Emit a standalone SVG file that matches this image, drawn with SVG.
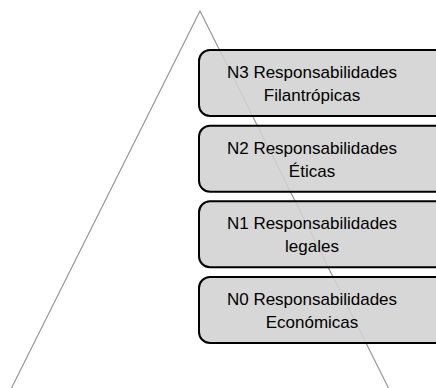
<svg xmlns="http://www.w3.org/2000/svg" width="436" height="388" viewBox="0 0 436 388">
  <style>
    .tri { fill: none; stroke: #a0a0a0; stroke-width: 1.3; }
    .box rect { fill: #d2d2d2; fill-opacity: 0.88; stroke: #000; stroke-width: 2; }
    .box text { font-family: "Liberation Sans", Arial, sans-serif; font-size: 17px; fill: #000; text-anchor: middle; }
  </style>
  <rect width="436" height="388" fill="#fff"/>
  <g id="connectors">
    <polyline class="tri" points="11,389 200,11 389,389"/>
  </g>
  <g id="n3" class="box">
    <rect x="199" y="50" width="260" height="66" rx="11"/>
    <text x="312" y="78">N3 Responsabilidades</text>
    <text x="312" y="101">Filantrópicas</text>
  </g>
  <g id="n2" class="box">
    <rect x="199" y="125.7" width="260" height="66" rx="11"/>
    <text x="312" y="153.7">N2 Responsabilidades</text>
    <text x="312" y="176.7">Éticas</text>
  </g>
  <g id="n1" class="box">
    <rect x="199" y="201.3" width="260" height="66" rx="11"/>
    <text x="312" y="229.3">N1 Responsabilidades</text>
    <text x="312" y="252.3">legales</text>
  </g>
  <g id="n0" class="box">
    <rect x="199" y="277" width="260" height="66" rx="11"/>
    <text x="312" y="305">N0 Responsabilidades</text>
    <text x="312" y="328">Económicas</text>
  </g>
</svg>
